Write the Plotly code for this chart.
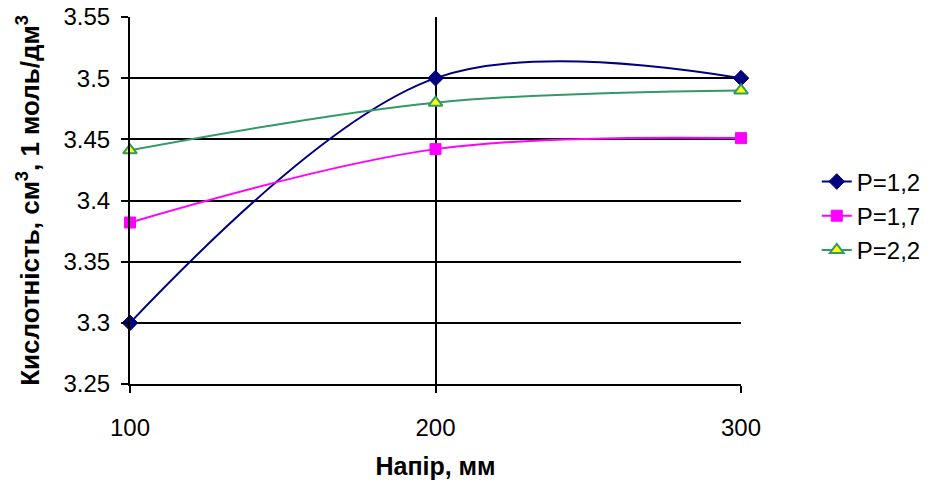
import plotly.graph_objects as go

# Напір (head), mm
head_mm = [100, 200, 300]

# Кислотність for each P value
series_names = ["P=1,2", "P=1,7", "P=2,2"]
acid_p12 = [3.30, 3.50, 3.50]
acid_p17 = [3.382, 3.442, 3.451]
acid_p22 = [3.441, 3.480, 3.490]

y_ticks = [3.25, 3.30, 3.35, 3.40, 3.45, 3.50, 3.55]
x_ticks = [100, 200, 300]

FONT = "Liberation Sans, Arial, sans-serif"

styles = [
    dict(line=dict(color="#000080", width=2),
         marker=dict(symbol="diamond", size=12, color="#000080",
                     line=dict(color="#000080", width=1))),
    dict(line=dict(color="#FF00FF", width=2),
         marker=dict(symbol="square", size=11, color="#FF00FF",
                     line=dict(color="#FF00FF", width=1))),
    dict(line=dict(color="#339966", width=2),
         marker=dict(symbol="triangle-up", size=12, color="#FFFF00",
                     line=dict(color="#339966", width=2))),
]

fig = go.Figure()
for name, vals, st in zip(series_names, [acid_p12, acid_p17, acid_p22], styles):
    fig.add_trace(go.Scatter(
        x=head_mm, y=vals, name=name, mode="lines+markers",
        line=dict(shape="spline", smoothing=1, **st["line"]),
        marker=st["marker"], cliponaxis=False,
    ))

fig.update_layout(
    width=943, height=484,
    margin=dict(l=130, r=202, t=17, b=100),
    paper_bgcolor="white", plot_bgcolor="white",
    font=dict(family=FONT, size=24, color="black"),
    showlegend=True,
    legend=dict(x=1.124, xanchor="left", y=0.458, yanchor="middle",
                font=dict(size=24), bgcolor="rgba(0,0,0,0)"),
    xaxis=dict(
        range=[100, 300], tickvals=x_ticks, ticktext=[str(v) for v in x_ticks],
        showgrid=True, gridcolor="black", gridwidth=2,
        showline=True, linecolor="black", linewidth=2,
        ticks="outside", ticklen=7, tickwidth=2, tickcolor="black",
        ticklabelstandoff=14, zeroline=False, automargin=False,
        tickfont=dict(size=24),
        title=dict(text="<b>Напір, мм</b>", font=dict(size=25), standoff=18),
    ),
    yaxis=dict(
        range=[3.25, 3.55], tickvals=y_ticks,
        ticktext=[f"{v:g}" for v in y_ticks],
        showgrid=True, gridcolor="black", gridwidth=2,
        showline=True, linecolor="black", linewidth=2,
        ticks="outside", ticklen=7, tickwidth=2, tickcolor="black",
        ticklabelstandoff=6, zeroline=False, automargin=False,
        tickfont=dict(size=24),
        title=dict(text="<b>Кислотність, см<sup>3</sup>, 1 моль/дм<sup>3</sup></b>",
                   font=dict(size=26), standoff=16),
    ),
)

fig.write_html("out.html")
